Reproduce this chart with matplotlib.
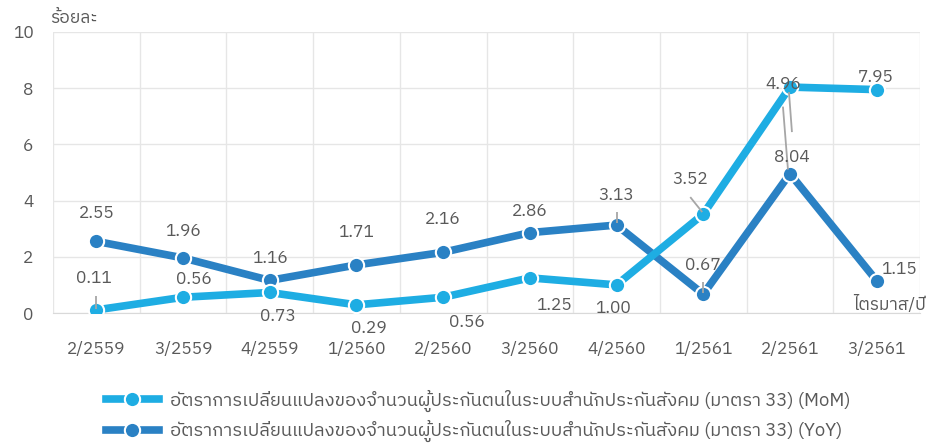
import matplotlib
matplotlib.use("Agg")
import matplotlib.pyplot as plt
from matplotlib.lines import Line2D
import numpy as np

plt.rcParams['font.family'] = ['IBM Plex Sans Thai', 'DejaVu Sans']

categories = ["2/2559", "3/2559", "4/2559", "1/2560", "2/2560",
              "3/2560", "4/2560", "1/2561", "2/2561", "3/2561"]
mom = [0.11, 0.56, 0.73, 0.29, 0.56, 1.25, 1.00, 3.52, 8.04, 7.95]
yoy = [2.55, 1.96, 1.16, 1.71, 2.16, 2.86, 3.13, 0.67, 4.96, 1.15]
mom_labels = ["0.11", "0.56", "0.73", "0.29", "0.56", "1.25", "1.00", "3.52", "4.96", "7.95"]
yoy_labels = ["2.55", "1.96", "1.16", "1.71", "2.16", "2.86", "3.13", "0.67", "8.04", "1.15"]
mom_name = "อัตราการเปลี่ยนแปลงของจำนวนผู้ประกันตนในระบบสำนักประกันสังคม (มาตรา 33) (MoM)"
yoy_name = "อัตราการเปลี่ยนแปลงของจำนวนผู้ประกันตนในระบบสำนักประกันสังคม (มาตรา 33) (YoY)"

c_mom = "#1EADE3"
c_yoy = "#2A81C4"
txt = "#595959"
grid = "#E6E6E6"

fig = plt.figure(figsize=(9.3, 4.47), dpi=100)
ax = fig.add_axes([53/930, 1-313/447, 867/930, 281/447])
x = np.arange(len(categories))

ax.plot(x, yoy, color=c_yoy, lw=5.5, marker='o', ms=11, mfc=c_yoy,
        mec='white', mew=1.5, solid_capstyle='round', zorder=3)
ax.plot(x, mom, color=c_mom, lw=5.5, marker='o', ms=11, mfc=c_mom,
        mec='white', mew=1.5, solid_capstyle='round', zorder=4)

ax.set_xlim(-0.5, len(categories) - 0.5)
ax.set_ylim(0, 10)
ax.set_yticks(np.arange(0, 11, 2))
ax.set_xticks(x)
ax.set_xticklabels(categories)
ax.set_xticks(np.arange(-0.5, len(categories), 1), minor=True)
ax.grid(False)
ax.grid(which='minor', axis='x', color=grid, lw=1)
ax.grid(which='major', axis='y', color=grid, lw=1)
ax.tick_params(axis='both', which='both', length=0, colors=txt, labelsize=12.5)
ax.tick_params(axis='x', pad=20)
ax.tick_params(axis='y', pad=14)
for s in ['top', 'right', 'left']:
    ax.spines[s].set_visible(False)
ax.spines['bottom'].set_color("#D9D9D9")

fs = 12.5
P = 0.72  # points per pixel at 100 dpi
# label offsets in pixels (dx right, dy up)
mom_off = [(-2, 32), (11, 18), (8, -24), (12, -23), (24, -25), (24, -27), (-4, -23), (-13, 35), (-7, 3), (-1, 13)]
yoy_off = [(0, 28), (0, 27), (0, 22), (0, 33), (0, 33), (0, 22), (0, 30), (0, 29), (2, 17), (22, 12)]
for i in range(len(x)):
    ax.annotate(mom_labels[i], (x[i], mom[i]), xytext=(mom_off[i][0]*P, mom_off[i][1]*P),
                textcoords='offset points', ha='center', va='center', color=txt,
                fontsize=fs, zorder=6, annotation_clip=False)
    ax.annotate(yoy_labels[i], (x[i], yoy[i]), xytext=(yoy_off[i][0]*P, yoy_off[i][1]*P),
                textcoords='offset points', ha='center', va='center', color=txt,
                fontsize=fs, zorder=6, annotation_clip=False)

# leader lines (pixel offsets from the point)
lead = "#A6A6A6"
XU, YU = 86.7, 28.1
def leader(xi, yi, d0, d1):
    ax.plot([xi + d0[0]/XU, xi + d1[0]/XU], [yi + d0[1]/YU, yi + d1[1]/YU],
            color=lead, lw=1.3, zorder=5, solid_capstyle='butt')
leader(x[0], mom[0], (0, 1), (0, 14))
leader(x[6], yoy[6], (0, 2), (0, 13))
leader(x[7], mom[7], (-1, 2), (-13, 17))
leader(x[7], yoy[7], (0, 1), (0, 12))
leader(x[8], mom[8], (-1, -5), (2, -45))
leader(x[8], yoy[8], (-2, 4), (-7, 67))

fig.text(50/930, 1-18/447, "ร้อยละ", color=txt, fontsize=12.5, va='center', ha='left')
fig.text(926/930, 1-304/447, "ไตรมาส/ปี", color=txt, fontsize=12.5, va='center', ha='right')

h1 = Line2D([], [], color=c_mom, lw=5.5, marker='o', ms=11, mfc=c_mom, mec='white', mew=1.5)
h2 = Line2D([], [], color=c_yoy, lw=5.5, marker='o', ms=11, mfc=c_yoy, mec='white', mew=1.5)
leg = fig.legend([h1, h2], [mom_name, yoy_name], loc='center left',
                 bbox_to_anchor=(89/930, 1-416/447), frameon=False, fontsize=13.2,
                 handlelength=2.9, handletextpad=0.6, labelspacing=0.45, labelcolor=txt)

fig.savefig("out.png")
